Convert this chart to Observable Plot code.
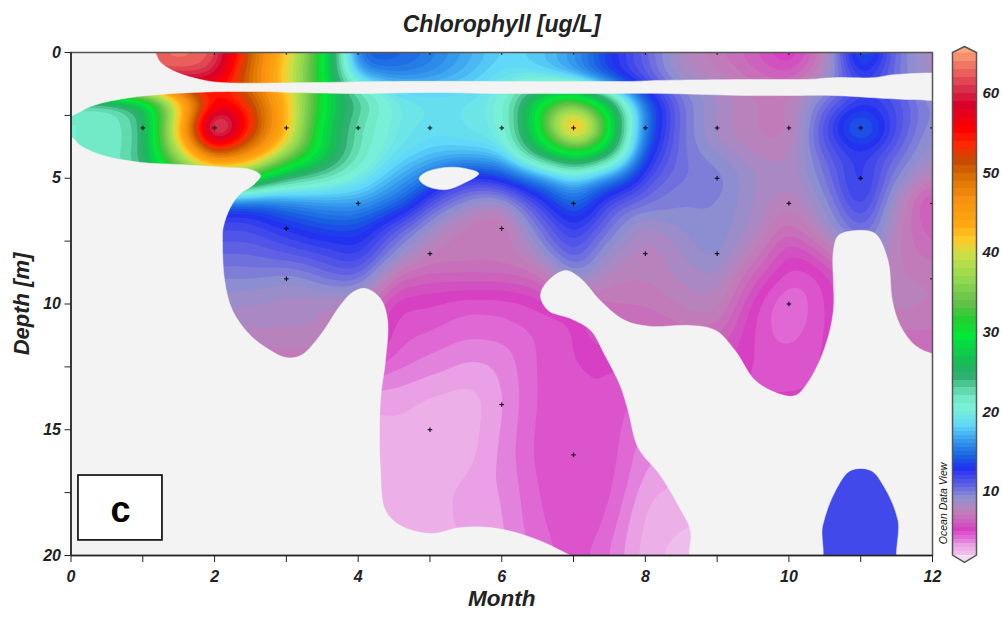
<!DOCTYPE html>
<html>
<head>
<meta charset="utf-8">
<script src="https://cdn.jsdelivr.net/npm/d3@7"></script>
<script src="https://cdn.jsdelivr.net/npm/@observablehq/plot@0.6"></script>
<style>
html,body{margin:0;padding:0;background:#fff}
#chart{position:relative;width:1002px;height:620px;overflow:hidden}
#chart svg{display:block;background:transparent}
#bar{position:absolute;left:0;top:0}
</style>
</head>
<body>
<div id="chart"></div>
<script>
const months = [0,0.5,1,1.5,2,2.5,3,3.5,4,4.5,5,5.5,6,6.5,7,7.5,8,8.5,9,9.5,10,10.5,11,11.5,12];

const d00  = [62,62,62,63,63,50,42,31,13.5,14,15,16.5,18,18,16.5,13,10.5,8,7,6,4.2,7,16,10,8];
const d06  = [62,62,63,64,61,50,41,30,15,14.5,15.5,17,18.5,17.5,16,13,11,8,7.5,6.5,5.5,8,14,10,8];
const d12  = [60,60,60,60,58,48,40,30,19,16.5,16.5,17.5,19,19.5,16.5,13,11,9,8,7,6.5,8.5,12,10,8];
const d17  = [21,21,26,40,54,52,43,30,24,20,19,19,20,28,33,25,14,10,8.5,7.5,7.5,9.5,12,11.5,9];
const d25  = [21,21,24,40,60,53,43,29,23,19.5,19,19,20,30,40,30,15,10,8.5,7.5,7,11,13.5,11.5,9];
const d30  = [21,21,23,44,74,54,43,28,22,19.5,18.5,19,19.5,29,54,29,14.5,10,8,7.5,7,11.5,17,11.5,9];
const d35  = [21,21,23,42,60,52,42,28,22,19.5,18.5,19,19.5,29,38,29,14,10,8.5,7.5,7.5,11.5,13.5,11,8.5];
const d40  = [21,21,24,37,53,48,38,29,22,19,18,17.5,18,26,31,26,13,10,9,8,7.5,11,12.5,10.5,8.5];
const d45  = [21,21,24,36,44,42,30,26,21,18,16,15,15.5,20,24,20,12,10,9.5,8.5,8,10,12.5,10,8];
const d50  = [21,21,22,28,32,30,24,22,20,17,15,12,13,15,18,15,11.5,10,10,8.5,8,10,13,9.5,7.5];
const d60  = [13,13,13,13,13,13,15,16,16.5,15,11,9,8,11.5,15,11,10,9.5,9.5,8.5,7.5,9,12.5,8,5];
const d70  = [12,12,12,12,11.5,11.5,12.5,13.5,13.5,11,8.5,7,6.5,10,12.5,10,8,9,9.5,8.5,6.5,8.5,11,7.5,6];
const d80  = [11,11,11,11,10.5,10.5,11,11.5,12.5,9.5,7.5,7.5,7.5,8.5,11.5,8.5,7.5,8.5,9.5,7.5,5.2,6.5,9,7.5,6.5];
const d90  = [9.5,9.5,9.5,9.5,9.5,9.5,9,10,10.5,6.5,6.2,6.2,6.2,6.5,9,7.5,7.5,8.2,8.5,6.2,4.5,5,7,7.5,7.5];
const d100 = [8.5,8.5,8.5,8.5,8.5,8.5,8.3,8,7.5,5,5,4.6,4.6,5,5.5,7,7,7.5,8,5.2,3.8,5,6,8,7.5];
const d110 = [8,8,8,8,8,8,8,8,7,4.8,4.6,4.2,4.3,4.6,4.8,6.5,6.5,7,7,5,4,5,6,7,7];
const d120 = [7.5,7.5,7.5,7.5,7.5,7.5,7.5,7.5,6,4.5,4,3.6,3.7,4.6,5,5,5,5.5,6,5,4.6,5,6,6.5,6.5];
const d140 = [3,3,3,3,3,3,3,3,3,3.1,2.8,2.6,3.4,4.6,5,5,4,5,5,5,5,5,5,5,5];
const d160 = [2.7,2.7,2.7,2.7,2.7,2.7,2.7,2.7,2.7,2.7,2.7,2.7,3.6,4.7,5,4.8,3.6,3.2,3.2,11.8,11.8,11.8,11.8,11.8,11.8];
const d180 = [2.7,2.7,2.7,2.7,2.7,2.7,2.7,2.7,2.7,2.7,2.7,3.2,3.4,4.5,5,4.6,2.9,2.7,2.7,11.8,11.8,11.8,11.8,11.8,11.8];
const d200 = [2.7,2.7,2.7,2.7,2.7,2.7,2.7,2.7,2.7,2.7,2.7,2.9,3.3,4.2,4.8,4,2.7,2.2,2.2,11.8,11.8,11.8,11.8,11.8,11.8];

const depthRows = [0,0.6,1.2,1.7,2.5,3,3.5,4,4.5,5,6,7,8,9,10,11,12,14,16,18,20];
const valueRows = [d00,d06,d12,d17,d25,d30,d35,d40,d45,d50,d60,d70,d80,d90,d100,d110,d120,d140,d160,d180,d200];

const stationMonths = [2,3,4,5,6,7,8,9,10,11, 1,2,3,4,5,6,7,8,9,10,11,12, 9,11, 4,7,10,12, 3,6, 5,8,9, 3,12, 10, 6, 5, 7];
const stationDepths = [0,0,0,0,0,0,0,0,0,0, 3,3,3,3,3,3,3,3,3,3,3,3, 5,5, 6,6,6,6, 7,7, 8,8,8, 9,9, 10, 14, 15, 16];

// outlines of the parts of the section that have no data
const blankTopBand = [[-0.3,-0.5],[1.1,-0.5],[1.18,0.03],[1.25,0.4],[1.48,0.8],[1.8,1.07],[2.08,1.19],[3.47,1.19],[4.49,1.15],[5.98,1.15],[7.75,1.15],[8.21,1.11],[9.51,1.07],[10.26,1.07],[10.62,1],[11.18,1],[11.51,0.87],[12.3,1],[12.3,1.79],[11.73,1.87],[11.37,1.83],[10.62,1.71],[10.06,1.71],[9.37,1.71],[8.31,1.63],[7.37,1.63],[5.98,1.63],[4.96,1.59],[4.03,1.63],[3.1,1.59],[2.64,1.55],[1.71,1.59],[0.83,1.79],[0.31,2.11],[0.02,2.5],[-0.3,2.75]];
const blankLeft = [[-0.3,3.2],[0.01,3.38],[0.13,3.7],[0.45,4.1],[0.97,4.37],[1.48,4.45],[2.18,4.57],[2.5,4.65],[2.64,4.89],[2.53,5.29],[2.36,5.61],[2.22,6.16],[2.12,6.96],[2.11,7.48],[2.14,9.07],[2.25,10.26],[2.5,11.25],[2.78,11.85],[2.99,12.13],[3.2,12.05],[3.47,11.25],[3.75,10.06],[3.92,9.54],[4.1,9.38],[4.31,9.78],[4.41,10.66],[4.38,12.25],[4.31,13.84],[4.31,16.62],[4.38,18.21],[4.59,18.81],[5.01,19.13],[5.43,18.89],[5.84,18.89],[6.33,19.2],[6.82,19.8],[7.2,20.5],[-0.3,20.5]];
const blankHole = [[4.85,5.01],[4.94,4.77],[5.22,4.57],[5.49,4.61],[5.68,4.81],[5.49,5.17],[5.22,5.45],[4.94,5.29]];
const blankRight = [[8.66,20.5],[8.63,19],[8.46,18.01],[8.21,16.82],[7.9,15.71],[7.76,14.23],[7.65,13.24],[7.44,12.05],[7.24,11.05],[6.96,10.58],[6.65,10.26],[6.54,9.66],[6.65,9.07],[6.89,8.67],[7.1,8.99],[7.37,9.86],[7.72,10.66],[8.07,10.89],[8.62,10.85],[8.98,11.05],[9.25,11.85],[9.53,13.04],[9.85,13.56],[10.09,13.64],[10.3,12.96],[10.51,11.65],[10.62,10.26],[10.62,7.87],[10.69,7.28],[10.93,7.08],[11.2,7.2],[11.38,8.27],[11.44,9.86],[11.55,10.85],[11.76,11.65],[12,11.97],[12.4,12],[12.4,20.5],[11.55,20.5],[11.52,18.61],[11.34,17.34],[11.14,16.62],[10.86,16.62],[10.65,17.42],[10.47,18.81],[10.41,20.5]];

const colorStops = [1,2,3,3.8,5,6,7.2,8.9,10.5,12.6,14,16,18,20,21.4,24,25.5,29,31,33,36,39,41,43,46,49,51,53,55,58,60,62.5,65];
const colorRange = ["#f4dcf4","#efbdec","#e9a0e4","#e070d8","#d840c4","#cc62bc","#c080b8","#9090d0","#6060e4","#2030f0","#1860e0","#3498ec","#60d8f8","#78f0d8","#70e8c0","#30b070","#18b858","#00e838","#20d030","#60c048","#90d850","#c8e048","#ffca28","#ffa810","#f89010","#d87000","#c84a00","#ff2a00","#ff0000","#d80028","#d8304a","#ee6a60","#ffa97a"];
const contourLevels = [1,1.5,2,2.5,3,3.5,4,4.5,5,5.5,6,6.5,7,7.5,8,8.5,9,9.5,10,10.5,11,11.5,12,12.5,13,13.5,14,14.5,15,15.5,16,16.5,17,17.5,18,18.5,19,19.5,20,21,22,23,24,25,26,27,28,29,30,31,32,33,34,35,36,37,38,39,40,41,42,43,44,45,46,47,48,49,50,51,52,53,54,55,56,57,58,59,60,61,62,63,64,65];
const depthTicks = [0,2.5,5,7.5,10,12.5,15,17.5,20];
const monthTicks = [0,1,2,3,4,5,6,7,8,9,10,11,12];
const barLabels = [10,20,30,40,50,60];

const grid = valueRows.flatMap((row, r) => row.map((value, c) => ({month: months[c], depth: depthRows[r], value})));
const stations = stationMonths.map((month, i) => ({month, depth: stationDepths[i]}));
const blanks = [blankTopBand, blankLeft, blankHole, blankRight].flatMap((ring, id) => ring.map(([month, depth]) => ({id, month, depth})));

const colorScale = {type: "linear", domain: colorStops, range: colorRange};
const FONT = "'Liberation Sans', Arial, sans-serif";
const BG = "#f3f3f3";

const main = Plot.plot({
  width: 1002, height: 620,
  marginLeft: 70.5, marginRight: 70, marginTop: 52, marginBottom: 65,
  style: {fontFamily: FONT, background: "transparent"},
  x: {domain: [0, 12]},
  y: {domain: [0, 20], reverse: true},
  color: colorScale,
  marks: [
    Plot.contour(grid, {x: "month", y: "depth", fill: "value", interpolate: "barycentric", thresholds: contourLevels, pixelSize: 2, blur: 5, clip: true}),
    Plot.line(blanks, {x: "month", y: "depth", z: "id", fill: BG, stroke: BG, strokeWidth: 0.5, curve: "catmull-rom-closed", clip: true}),
    Plot.dot(stations, {x: "month", y: "depth", symbol: "plus", r: 1.6, stroke: "#000", strokeWidth: 1, clip: true}),
    Plot.rect([{m1: 0.104, m2: 1.274, d1: 16.82, d2: 19.4}], {x1: "m1", x2: "m2", y1: "d1", y2: "d2", fill: "#fff", stroke: "#000", strokeWidth: 1.6}),
    Plot.text(["c"], {x: () => 0.689, y: () => 18.2, fontSize: 36, fontWeight: "bold", fill: "#000"}),
    Plot.frame({stroke: "#555", strokeWidth: 1.5}),
    Plot.ruleX([0], {stroke: "#222", strokeWidth: 1.5}),
    Plot.ruleY([20], {stroke: "#222", strokeWidth: 1.5}),
    Plot.axisX({ticks: monthTicks, tickSize: 7, tickPadding: 8, stroke: "#222", fontSize: 16, fontStyle: "italic", fontWeight: "bold", fill: "#222",
      tickFormat: d => d % 2 ? "" : d, label: null}),
    Plot.axisY({ticks: depthTicks, tickSize: 6, tickPadding: 4, stroke: "#222", fontSize: 16, fontStyle: "italic", fontWeight: "bold", fill: "#222",
      tickFormat: d => d % 5 ? "" : d, label: null}),
    Plot.text(["Chlorophyll [ug/L]"], {frameAnchor: "top", dy: -37, fontSize: 23, fontStyle: "italic", fontWeight: "bold", fill: "#222"}),
    Plot.text(["Month"], {frameAnchor: "bottom", dy: 50, fontSize: 22.5, fontStyle: "italic", fontWeight: "bold", fill: "#222"}),
    Plot.text(["Depth [m]"], {frameAnchor: "left", textAnchor: "middle", dx: -49, rotate: -90, fontSize: 22, fontStyle: "italic", fontWeight: "bold", fill: "#222"})
  ]
});

const barBands = contourLevels.filter(v => v >= 2 && v < 65).map((v, i, a) => ({v, next: a[i + 1] ?? 65.15}));
const tipTop = [{x: 0, y: 65.15}, {x: 0.5, y: 65.9}, {x: 1, y: 65.15}];
const tipBottom = [{x: 0, y: 2}, {x: 0.5, y: 1.1}, {x: 1, y: 2}];

const bar = Plot.plot({
  width: 62, height: 620,
  marginLeft: 12, marginRight: 26, marginTop: 45.2, marginBottom: 57.4,
  style: {fontFamily: FONT, background: "transparent", overflow: "visible"},
  x: {domain: [0, 1], axis: null},
  y: {domain: [1, 66], axis: null},
  color: colorScale,
  marks: [
    Plot.rect(barBands, {x1: () => 0, x2: () => 1, y1: "v", y2: "next", fill: "v", shapeRendering: "crispEdges"}),
    Plot.line(tipTop, {x: "x", y: "y", fill: "#ffa97a", stroke: "#555", strokeWidth: 1.5}),
    Plot.line(tipBottom, {x: "x", y: "y", fill: "#f4dcf4", stroke: "#555", strokeWidth: 1.5}),
    Plot.ruleX([0, 1], {y1: 2, y2: 65.15, stroke: "#555", strokeWidth: 1.5}),
    Plot.axisY({ticks: barLabels, anchor: "right", tickSize: 0, tickPadding: 6, fontSize: 15, fontStyle: "italic", fontWeight: "bold", fill: "#222", label: null}),
    Plot.text(["Ocean Data View"], {x: () => -0.39, y: () => 8.5, rotate: -90, fontSize: 10.5, fontStyle: "italic", fill: "#111"})
  ]
});

const host = document.getElementById("chart");
bar.id = "bar";
bar.style.left = "940px";
host.append(main, bar);
</script>
</body>
</html>
